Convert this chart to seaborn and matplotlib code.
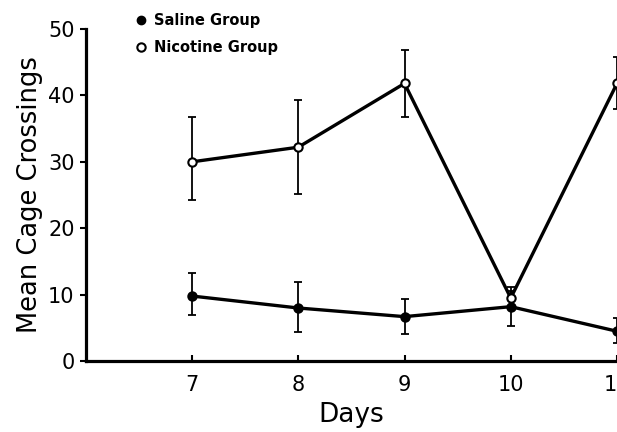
import matplotlib
matplotlib.use("Agg")
import matplotlib.pyplot as plt
import seaborn as sns
import pandas as pd
import numpy as np
from matplotlib.lines import Line2D

days = [7, 8, 9, 10, 11]
saline_mean = [9.8, 8.0, 6.7, 8.2, 4.5]
saline_low = [6.9, 4.4, 4.1, 5.3, 2.7]
saline_high = [13.3, 11.9, 9.4, 10.6, 6.5]
nicotine_mean = [30.0, 32.2, 41.8, 9.5, 41.8]
nicotine_low = [24.2, 25.2, 36.8, 8.0, 38.0]
nicotine_high = [36.8, 39.3, 46.8, 11.2, 45.8]
groups = ["Saline Group", "Nicotine Group"]
y_ticks = [0, 10, 20, 30, 40, 50]

sns.set_style("ticks")
plt.rcParams['font.family'] = ['DejaVu Sans']
for k in ["text.color", "axes.labelcolor", "xtick.color", "ytick.color", "axes.edgecolor"]:
    plt.rcParams[k] = "black"

df = pd.DataFrame({
    "Days": days * 2,
    "Crossings": saline_mean + nicotine_mean,
    "Group": [groups[0]] * len(days) + [groups[1]] * len(days),
})

fig = plt.figure(figsize=(6.17, 4.32), dpi=100)
ax = fig.add_axes([0.139, 0.164, 0.861, 0.769])

means = [saline_mean, nicotine_mean]
lows = [saline_low, nicotine_low]
highs = [saline_high, nicotine_high]
for m, lo, hi in zip(means, lows, highs):
    m = np.array(m); lo = np.array(lo); hi = np.array(hi)
    ax.errorbar(days, m, yerr=[m - lo, hi - m], fmt="none", ecolor="black",
                elinewidth=1.3, capsize=3, capthick=1.3, zorder=2)

n_before = len(ax.lines)
sns.lineplot(data=df, x="Days", y="Crossings", hue="Group", style="Group",
             palette=["black", "black"], markers=["o", "o"], dashes=False,
             linewidth=2.4, markersize=6, ax=ax, legend=False, zorder=3)
line_objs = ax.lines[n_before:]
face = {0: "black", 1: "white"}
for i, ln in enumerate(line_objs[:2]):
    ln.set_markerfacecolor(face[i])
    ln.set_markeredgecolor("black")
    ln.set_markeredgewidth(1.5)

ax.set_xlim(6.0, 11.0)
ax.set_ylim(0, 50)
ax.set_xticks(days)
ax.set_xticklabels([str(d) for d in days])
ax.set_yticks(y_ticks)
ax.set_yticklabels([str(t) for t in y_ticks])
sns.despine(ax=ax)
for s in ["left", "bottom"]:
    ax.spines[s].set_linewidth(2.3)
    ax.spines[s].set_color("black")
ax.tick_params(axis="y", direction="out", length=4, width=1.5, labelsize=15, pad=4)
ax.tick_params(axis="x", direction="in", length=4, width=1.5, labelsize=15, pad=10)
ax.set_xlabel("Days", fontsize=19, labelpad=5)
ax.set_ylabel("Mean Cage Crossings", fontsize=18.5, labelpad=4)

handles = [
    Line2D([], [], marker="o", linestyle="None", markerfacecolor="black",
           markeredgecolor="black", markersize=6),
    Line2D([], [], marker="o", linestyle="None", markerfacecolor="white",
           markeredgecolor="black", markeredgewidth=1.5, markersize=6),
]
fig.legend(handles, groups, loc="upper left", bbox_to_anchor=(0.195, 1.0),
           frameon=False, prop={"size": 10.5, "weight": "bold"},
           handletextpad=0.4, labelspacing=0.8, handlelength=1.0)

fig.savefig("out.png", dpi=100)
